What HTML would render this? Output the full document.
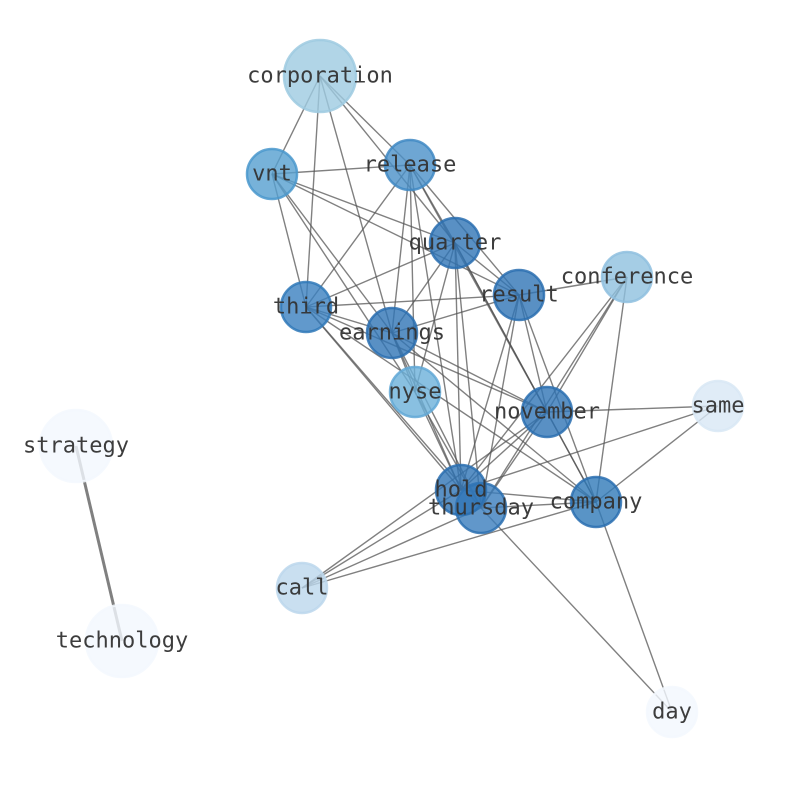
<!DOCTYPE html>
<html><head><meta charset="utf-8"><style>html,body{margin:0;padding:0;background:#fff}svg{display:block}</style></head>
<body>
<svg width="794" height="790" viewBox="0 0 794 790" xmlns="http://www.w3.org/2000/svg">
<g stroke="#555" stroke-opacity="0.75" stroke-width="1.4" fill="none">
<line x1="320" y1="76" x2="272" y2="174"/>
<line x1="320" y1="76" x2="306" y2="307"/>
<line x1="320" y1="76" x2="392" y2="333"/>
<line x1="320" y1="76" x2="410" y2="165"/>
<line x1="320" y1="76" x2="455" y2="243"/>
<line x1="272" y1="174" x2="410" y2="165"/>
<line x1="272" y1="174" x2="306" y2="307"/>
<line x1="272" y1="174" x2="392" y2="333"/>
<line x1="272" y1="174" x2="415" y2="392"/>
<line x1="272" y1="174" x2="455" y2="243"/>
<line x1="272" y1="174" x2="519" y2="295"/>
<line x1="410" y1="165" x2="306" y2="307"/>
<line x1="410" y1="165" x2="392" y2="333"/>
<line x1="410" y1="165" x2="415" y2="392"/>
<line x1="410" y1="165" x2="455" y2="243"/>
<line x1="410" y1="165" x2="519" y2="295"/>
<line x1="410" y1="165" x2="547" y2="412"/>
<line x1="410" y1="165" x2="461" y2="490"/>
<line x1="455" y1="243" x2="306" y2="307"/>
<line x1="455" y1="243" x2="392" y2="333"/>
<line x1="455" y1="243" x2="415" y2="392"/>
<line x1="455" y1="243" x2="519" y2="295"/>
<line x1="455" y1="243" x2="547" y2="412"/>
<line x1="455" y1="243" x2="461" y2="490"/>
<line x1="455" y1="243" x2="481" y2="508"/>
<line x1="455" y1="243" x2="596" y2="502"/>
<line x1="306" y1="307" x2="519" y2="295"/>
<line x1="306" y1="307" x2="392" y2="333"/>
<line x1="306" y1="307" x2="547" y2="412"/>
<line x1="306" y1="307" x2="596" y2="502"/>
<line x1="306" y1="307" x2="481" y2="508"/>
<line x1="306" y1="307" x2="461" y2="490"/>
<line x1="519" y1="295" x2="392" y2="333"/>
<line x1="519" y1="295" x2="627" y2="277"/>
<line x1="519" y1="295" x2="547" y2="412"/>
<line x1="519" y1="295" x2="596" y2="502"/>
<line x1="519" y1="295" x2="461" y2="490"/>
<line x1="519" y1="295" x2="481" y2="508"/>
<line x1="392" y1="333" x2="547" y2="412"/>
<line x1="392" y1="333" x2="415" y2="392"/>
<line x1="392" y1="333" x2="481" y2="508"/>
<line x1="392" y1="333" x2="461" y2="490"/>
<line x1="392" y1="333" x2="596" y2="502"/>
<line x1="627" y1="277" x2="547" y2="412"/>
<line x1="627" y1="277" x2="461" y2="490"/>
<line x1="627" y1="277" x2="481" y2="508"/>
<line x1="627" y1="277" x2="596" y2="502"/>
<line x1="415" y1="392" x2="461" y2="490"/>
<line x1="415" y1="392" x2="481" y2="508"/>
<line x1="547" y1="412" x2="718" y2="406"/>
<line x1="547" y1="412" x2="461" y2="490"/>
<line x1="547" y1="412" x2="481" y2="508"/>
<line x1="547" y1="412" x2="302" y2="588"/>
<line x1="547" y1="412" x2="596" y2="502"/>
<line x1="718" y1="406" x2="596" y2="502"/>
<line x1="718" y1="406" x2="461" y2="490"/>
<line x1="461" y1="490" x2="596" y2="502"/>
<line x1="461" y1="490" x2="302" y2="588"/>
<line x1="481" y1="508" x2="302" y2="588"/>
<line x1="481" y1="508" x2="596" y2="502"/>
<line x1="596" y1="502" x2="302" y2="588"/>
<line x1="481" y1="508" x2="672" y2="712"/>
<line x1="596" y1="502" x2="672" y2="712"/>
<line x1="76" y1="446" x2="122" y2="641" stroke-width="3"/>
</g>
<g stroke-width="2.5" stroke-opacity="0.85" fill-opacity="0.8">
<circle cx="320" cy="76" r="36" fill="#9ecae1" stroke="#9ecae1"/>
<circle cx="272" cy="174" r="25" fill="#559fd0" stroke="#4a98cc"/>
<circle cx="410" cy="165" r="25" fill="#4a90c8" stroke="#3f88c3"/>
<circle cx="455" cy="243" r="25" fill="#2f74b5" stroke="#2a6fb0"/>
<circle cx="306" cy="307" r="25" fill="#3a80bf" stroke="#3079b8"/>
<circle cx="519" cy="295" r="25" fill="#2f74b5" stroke="#2a6fb0"/>
<circle cx="627" cy="277" r="25" fill="#8fc0df" stroke="#8fc0df"/>
<circle cx="392" cy="333" r="25" fill="#2f74b5" stroke="#2a6fb0"/>
<circle cx="415" cy="392" r="25" fill="#6cb0da" stroke="#62a8d6"/>
<circle cx="547" cy="412" r="25" fill="#2f74b5" stroke="#2a6fb0"/>
<circle cx="718" cy="406" r="25" fill="#d8e7f5" stroke="#d8e7f5"/>
<circle cx="76" cy="446" r="36" fill="#f3f8fe" stroke="#f3f8fe"/>
<circle cx="481" cy="508" r="25" fill="#3a7dbd" stroke="#2a6fb0"/>
<circle cx="461" cy="490" r="25" fill="#2f74b5" stroke="#2a6fb0"/>
<circle cx="596" cy="502" r="25" fill="#3079b8" stroke="#2a6fb0"/>
<circle cx="302" cy="588" r="25" fill="#bcd7ec" stroke="#bcd7ec"/>
<circle cx="122" cy="641" r="36" fill="#f3f8fe" stroke="#f3f8fe"/>
<circle cx="672" cy="712" r="25" fill="#f3f8fe" stroke="#f3f8fe"/>
</g>
<g font-family="'DejaVu Sans Mono','Liberation Mono',monospace" font-size="22" fill="#333" fill-opacity="0.95" text-anchor="middle" dominant-baseline="central">
<text x="320" y="76">corporation</text>
<text x="272" y="174">vnt</text>
<text x="410" y="165">release</text>
<text x="455" y="243">quarter</text>
<text x="306" y="307">third</text>
<text x="519" y="295">result</text>
<text x="627" y="277">conference</text>
<text x="392" y="333">earnings</text>
<text x="415" y="392">nyse</text>
<text x="547" y="412">november</text>
<text x="718" y="406">same</text>
<text x="76" y="446">strategy</text>
<text x="461" y="490">hold</text>
<text x="481" y="508">thursday</text>
<text x="596" y="502">company</text>
<text x="302" y="588">call</text>
<text x="122" y="641">technology</text>
<text x="672" y="712">day</text>
</g>
</svg>
</body></html>
